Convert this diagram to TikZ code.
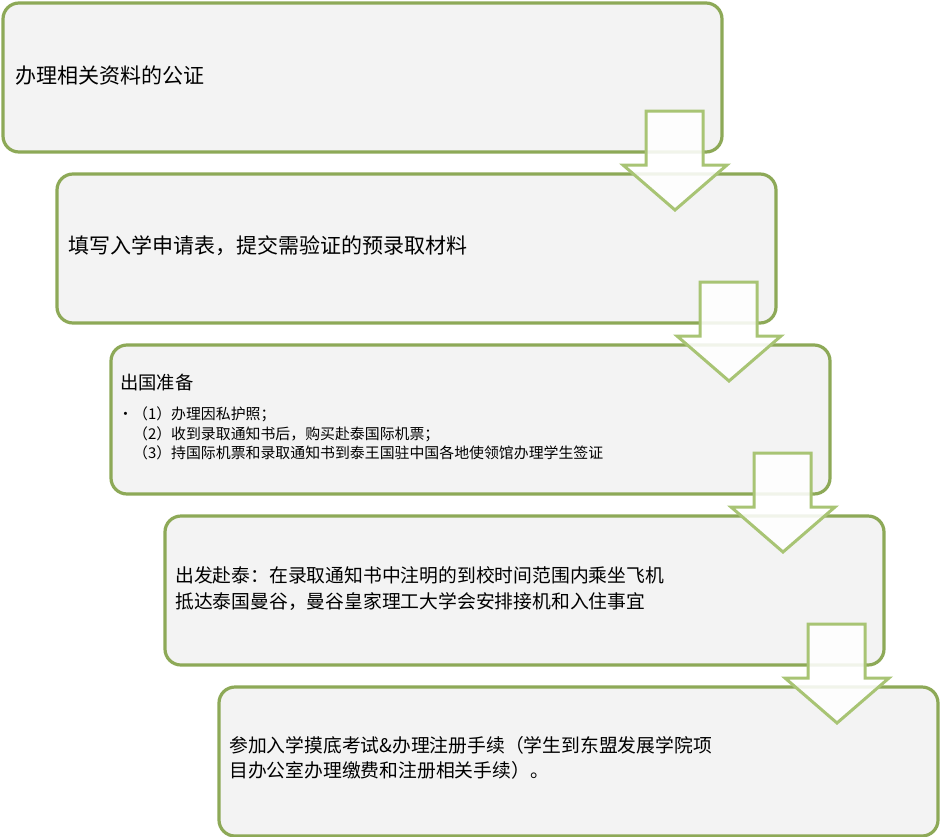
\documentclass[tikz,border=0pt]{standalone}
\usepackage{fontspec}
\newfontfamily\cjk{Noto Sans CJK SC}
\definecolor{boxline}{HTML}{8DA957}
\definecolor{boxfill}{HTML}{F3F3F3}
\definecolor{arrline}{HTML}{A8C474}
\begin{document}
\begin{tikzpicture}[x=1pt,y=-1pt,
  stepbox/.style={draw=boxline, line width=3.2pt, fill=boxfill, rounded corners=16pt,
    minimum width=719pt, minimum height=149pt, anchor=north west, inner sep=0pt, outer sep=0pt},
  bigtxt/.style={anchor=west, inner sep=0pt, font=\cjk\fontsize{21}{25}\selectfont},
  midtxt/.style={anchor=west, inner sep=0pt, align=left, font=\cjk\fontsize{18.8}{25.5}\selectfont},
  smalltxt/.style={anchor=west, inner sep=0pt, align=left, font=\cjk\fontsize{14.9}{19.2}\selectfont},
  downarrow/.style={draw=arrline, line width=3pt, fill=white, fill opacity=0.88, line join=miter}
]
\useasboundingbox (0,0) rectangle (940,836);
% boxes
\node[stepbox] (b1) at (3,3) {};
\node[stepbox] (b2) at (57,174) {};
\node[stepbox] (b3) at (111,345) {};
\node[stepbox] (b4) at (165,516) {};
\node[stepbox] (b5) at (219,687) {};
% texts
\node[bigtxt] (t1) at (15,75.5) {办理相关资料的公证};
\node[bigtxt] (t2) at (68,246) {填写入学申请表，提交需验证的预录取材料};
\node[anchor=west, inner sep=0pt, font=\cjk\fontsize{18.3}{22}\selectfont] (t3) at (120,383) {出国准备};
\node[smalltxt, anchor=north west] (t3b) at (118,407) {•（1）办理因私护照；\\
\phantom{•}（2）收到录取通知书后，购买赴泰国际机票；\\
\phantom{•}（3）持国际机票和录取通知书到泰王国驻中国各地使领馆办理学生签证};
\node[midtxt] (t4) at (175,588.5) {出发赴泰：在录取通知书中注明的到校时间范围内乘坐飞机\\抵达泰国曼谷，曼谷皇家理工大学会安排接机和入住事宜};
\node[midtxt] (t5) at (229,758) {参加入学摸底考试\&办理注册手续（学生到东盟发展学院项\\目办公室办理缴费和注册相关手续）。};
% arrows
\foreach \i in {0,1,2,3}{
  \begin{scope}[shift={(54*\i,171*\i)}]
    \draw[downarrow] (646,111) -- (703,111) -- (703,165) -- (727,165) -- (675,210)
      -- (623,165) -- (646,165) -- cycle;
  \end{scope}
}
\end{tikzpicture}
\end{document}
